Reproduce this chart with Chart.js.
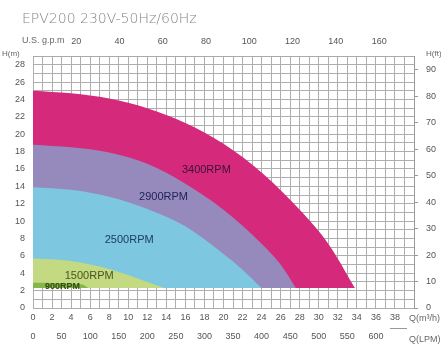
<!DOCTYPE html>
<html>
<head>
<meta charset="utf-8">
<script src="https://cdn.jsdelivr.net/npm/chart.js@4.4.1/dist/chart.umd.min.js"></script>
<style>
  html, body { margin: 0; padding: 0; background: #fff; }
  #wrap { width: 441px; height: 345px; position: relative; }
</style>
</head>
<body>
<div id="wrap"><canvas id="chart1" width="441" height="345"></canvas></div>
<script>
/* pump curves, Q in m3/h, H in m */
const q900 = [0, 2, 4, 5.2, 5.8];
const h900 = [2.9, 2.88, 2.8, 2.7, 2.3];

const q1500 = [0, 2, 4, 6, 8, 10, 12, 13.8];
const h1500 = [5.7, 5.6, 5.4, 5.0, 4.5, 3.8, 3.0, 2.3];

const q2500 = [0, 4, 8, 12, 16, 20, 22, 24];
const h2500 = [13.9, 13.6, 12.8, 11.4, 9.4, 6.2, 4.4, 2.3];

const q2900 = [0, 4, 8, 12, 16, 20, 24, 26, 27.6];
const h2900 = [18.8, 18.5, 17.9, 16.6, 14.3, 11.3, 7.4, 5.0, 2.3];

const q3400 = [0, 4, 8, 12, 16, 20, 24, 28, 31, 33.8];
const h3400 = [25, 24.7, 24.1, 23.0, 21.3, 18.9, 15.6, 11.3, 7.4, 2.3];

const baseHead = 2.3;

const rpmNames = ['900RPM', '1500RPM', '2500RPM', '2900RPM', '3400RPM'];
const rpmLabelQ = [3.1, 5.9, 10.1, 13.7, 18.2];
const rpmLabelH = [2.5, 3.7, 7.8, 12.8, 15.9];

// tick labels of the extra axes
const gpmTicks = [20, 40, 60, 80, 100, 120, 140, 160];
const lpmTicks = [0, 50, 100, 150, 200, 250, 300, 350, 400, 450, 500, 550, 600];
const ftTicks = [0, 10, 20, 30, 40, 50, 60, 70, 80, 90];

// axis ranges / conversions
const qMax = 40;          // m3/h
const hMax = 29;          // m
const gpmPerM3h = 1 / 0.2271247;
const lpmPerM3h = 1000 / 60;
const ftPerM = 3.28084;

const title = 'EPV200 230V-50Hz/60Hz';

function pts(qs, hs) {
    return qs.map((q, i) => ({ x: q, y: hs[i] }));
}

function area(qs, hs, color) {
    return {
        data: pts(qs, hs),
        backgroundColor: color,
        borderColor: color,
        borderWidth: 0,
        pointRadius: 0,
        fill: { value: baseHead },
        cubicInterpolationMode: 'monotone'
    };
}

function fixedTicks(list) {
    return (s) => { s.ticks = list.map(v => ({ value: v })); };
}

const tickFont = { family: 'Liberation Sans', size: 9 };
const tickColor = '#555';
const gridColor = '#aeaeae';

const textPlugin = {
    id: 'texts',
    afterDraw(chart) {
        const c = chart.ctx;
        const sx = chart.scales.x, sy = chart.scales.y;
        const labelColors = ['#2f4a12', '#4a5520', '#1b3d66', '#20255a', '#3a1238'];
        c.save();
        c.textBaseline = 'middle';
        c.textAlign = 'center';
        rpmNames.forEach((name, i) => {
            c.font = (i === 0 ? 'bold 9px' : '11px') + ' "Liberation Sans"';
            c.fillStyle = labelColors[i];
            c.fillText(name, sx.getPixelForValue(rpmLabelQ[i]), sy.getPixelForValue(rpmLabelH[i]));
        });

        c.textAlign = 'left';
        c.fillStyle = '#858585';
        c.font = '200 14px "DejaVu Sans"';
        c.fillText(title, 22, 19);

        c.fillStyle = '#666';
        c.font = '9px "Liberation Sans"';
        c.fillText('U.S. g.p.m', 22, 41);
        c.font = '8px "Liberation Sans"';
        c.fillText('H(m)', 2, 54);
        c.fillText('H(ft)', 426, 54);
        c.font = '9px "Liberation Sans"';
        c.fillText('Q(m\u00b3/h)', 409, 319);
        c.fillText('Q(LPM)', 409, 340);
        c.strokeStyle = '#999';
        c.lineWidth = 1;
        c.beginPath();
        c.moveTo(390, 328.5);
        c.lineTo(407, 328.5);
        c.stroke();
        c.restore();
    }
};

const config = {
    type: 'line',
    data: {
        datasets: [
            area(q900, h900, '#86b54a'),
            area(q1500, h1500, '#c3d982'),
            area(q2500, h2500, '#7ec7e0'),
            area(q2900, h2900, '#958abb'),
            area(q3400, h3400, '#d52a7c')
        ]
    },
    options: {
        responsive: false,
        animation: false,
        devicePixelRatio: 1,
        layout: { padding: 0 },
        plugins: {
            legend: { display: false },
            tooltip: { enabled: false }
        },
        scales: {
            x: {
                type: 'linear',
                position: 'bottom',
                min: 0,
                max: qMax,
                afterFit: (s) => { s.height = 17; },
                ticks: {
                    stepSize: 1,
                    autoSkip: false,
                    maxRotation: 0,
                    padding: 4,
                    font: tickFont,
                    color: tickColor,
                    callback: (v) => (v % 2 === 0 && v < qMax ? v : '')
                },
                grid: { color: gridColor, drawTicks: false },
                border: { display: false }
            },
            x2: {
                type: 'linear',
                position: 'bottom',
                min: 0,
                max: qMax * lpmPerM3h,
                afterFit: (s) => { s.height = 20; },
                afterBuildTicks: fixedTicks(lpmTicks),
                ticks: {
                    autoSkip: false,
                    maxRotation: 0,
                    padding: 6,
                    font: tickFont,
                    color: tickColor
                },
                grid: { display: false, drawTicks: false },
                border: { display: false }
            },
            xt: {
                type: 'linear',
                position: 'top',
                min: 0,
                max: qMax * gpmPerM3h,
                afterFit: (s) => { s.height = 56; },
                afterBuildTicks: fixedTicks(gpmTicks),
                ticks: {
                    autoSkip: false,
                    maxRotation: 0,
                    padding: 9,
                    font: tickFont,
                    color: tickColor
                },
                grid: { display: false, drawTicks: false },
                border: { display: true, color: '#aaa' }
            },
            y: {
                type: 'linear',
                position: 'left',
                min: 0,
                max: hMax,
                afterFit: (s) => { s.width = 33; },
                ticks: {
                    stepSize: 1,
                    autoSkip: false,
                    padding: 8,
                    font: tickFont,
                    color: tickColor,
                    callback: (v) => (v % 2 === 0 ? v : '')
                },
                grid: { color: gridColor, drawTicks: false },
                border: { display: false }
            },
            y2: {
                type: 'linear',
                position: 'right',
                min: 0,
                max: hMax * ftPerM,
                afterFit: (s) => { s.width = 27; },
                afterBuildTicks: fixedTicks(ftTicks),
                ticks: {
                    autoSkip: false,
                    padding: 8,
                    font: tickFont,
                    color: tickColor
                },
                grid: { drawOnChartArea: false, drawTicks: true, tickLength: 4, color: '#999' },
                border: { display: true, color: '#999' }
            }
        }
    },
    plugins: [textPlugin]
};

const chart1 = new Chart(document.getElementById('chart1'), config);
</script>
</body>
</html>
